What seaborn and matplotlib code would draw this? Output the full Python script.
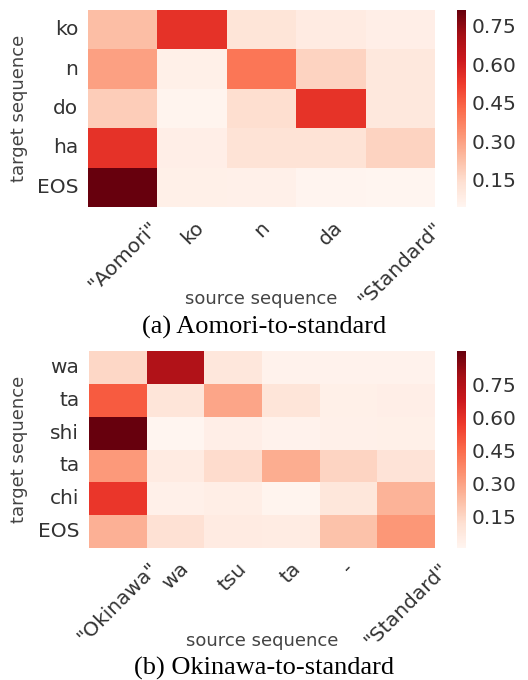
import numpy as np
import pandas as pd
import matplotlib
matplotlib.use("Agg")
import matplotlib.pyplot as plt
import seaborn as sns

# Aomori-to-standard attention weights
src_a = ['"Aomori"', 'ko', 'n', 'da', '"Standard"']
tgt_a = ['ko', 'n', 'do', 'ha', 'EOS']
att_a = [
    [0.23, 0.55, 0.12, 0.09, 0.075],
    [0.30, 0.07, 0.40, 0.175, 0.105],
    [0.19, 0.053, 0.145, 0.545, 0.105],
    [0.55, 0.075, 0.13, 0.13, 0.175],
    [0.81, 0.07, 0.068, 0.05, 0.045],
]

# Okinawa-to-standard attention weights
src_b = ['"Okinawa"', 'wa', 'tsu', 'ta', '-', '"Standard"']
tgt_b = ['wa', 'ta', 'shi', 'ta', 'chi', 'EOS']
att_b = [
    [0.145, 0.75, 0.08, 0.02, 0.02, 0.02],
    [0.49, 0.09, 0.29, 0.09, 0.035, 0.04],
    [0.90, 0.005, 0.04, 0.02, 0.03, 0.035],
    [0.32, 0.06, 0.13, 0.27, 0.155, 0.10],
    [0.58, 0.03, 0.045, 0.015, 0.085, 0.25],
    [0.26, 0.11, 0.06, 0.055, 0.21, 0.33],
]

cbar_ticks = [0.15, 0.30, 0.45, 0.60, 0.75]

sns.set_theme(style="white")
plt.rcParams['font.family'] = ['DejaVu Sans']

fig = plt.figure(figsize=(5.28, 6.8), dpi=100)

panels = [
    (att_a, src_a, tgt_a, [0.1667, 0.6956, 0.657, 0.2897], -0.173, -0.42, 0.519, '(a) Aomori-to-standard'),
    (att_b, src_b, tgt_b, [0.1686, 0.1941, 0.655, 0.2897], -0.176, -0.426, 0.0176, '(b) Okinawa-to-standard'),
]

for vals, src, tgt, pos, ylab_x, xlab_y, cap_y, caption in panels:
    df = pd.DataFrame(vals, index=tgt, columns=src)
    ax = fig.add_axes(pos)
    cax = fig.add_axes([0.8655, pos[1], 0.017, pos[3]])
    sns.heatmap(df, ax=ax, cbar_ax=cax, cmap='Reds',
                cbar_kws={'ticks': cbar_ticks})
    ax.set_xticklabels(src, rotation=45, ha='center', fontsize=14.5, color='#333333')
    ax.set_yticklabels(tgt, rotation=0, fontsize=14.5, color='#333333')
    ax.tick_params(axis='x', length=0, pad=8)
    ax.tick_params(axis='y', length=0, pad=7)
    ax.set_xlabel('source sequence', fontsize=13, color='#444444')
    ax.set_ylabel('target sequence', fontsize=13, color='#444444')
    ax.xaxis.set_label_coords(0.5, xlab_y)
    ax.yaxis.set_label_coords(ylab_x, 0.5)
    cax.tick_params(labelsize=14.5, length=0, labelcolor='#333333', pad=4)
    cax.set_yticklabels(['%.2f' % t for t in cbar_ticks])
    for s in cax.spines.values():
        s.set_visible(False)
    fig.text(0.5, cap_y, caption, ha='center', va='center',
             family=['Liberation Serif', 'DejaVu Serif'], fontsize=19, color='black')

fig.savefig('out.png', dpi=100)
